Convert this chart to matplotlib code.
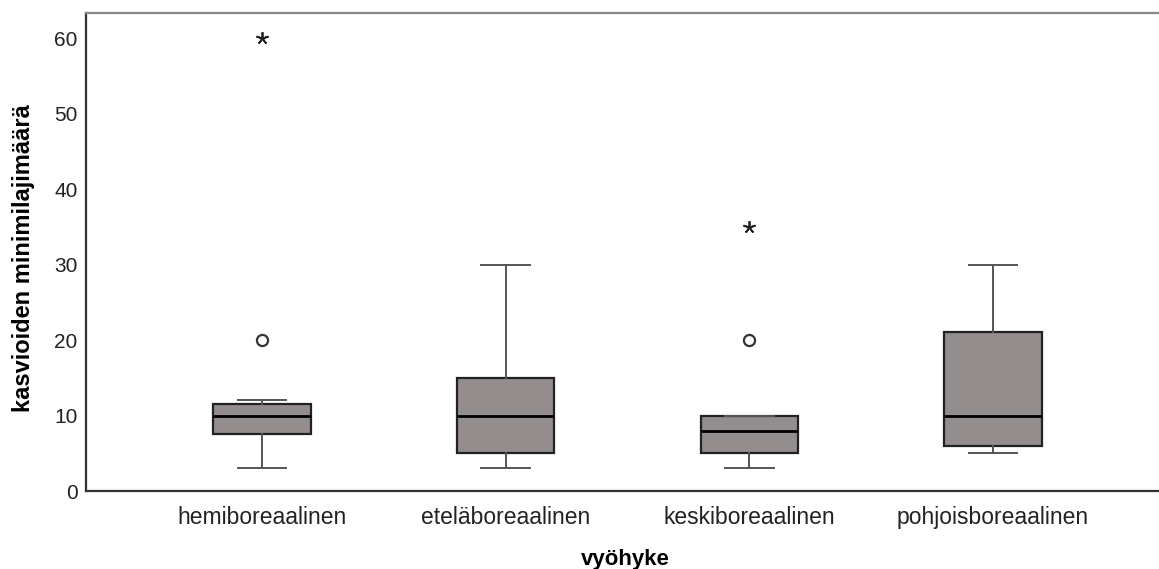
import matplotlib
matplotlib.use("Agg")
import matplotlib.pyplot as plt

plt.rcParams["font.family"] = ["Liberation Sans", "DejaVu Sans"]

zones = ["hemiboreaalinen", "eteläboreaalinen", "keskiboreaalinen", "pohjoisboreaalinen"]
whisker_low = [3, 3, 3, 5]
q1 = [7.5, 5, 5, 6]
medians = [10, 10, 8, 10]
q3 = [11.5, 15, 10, 21]
whisker_high = [12, 30, 10, 30]
outliers = [[20], [], [20], []]
extremes = [[60], [], [35], []]

stats = [
    {"whislo": lo, "q1": a, "med": m, "q3": b, "whishi": hi, "fliers": []}
    for lo, a, m, b, hi in zip(whisker_low, q1, medians, q3, whisker_high)
]

fig = plt.figure(figsize=(11.59, 5.69), dpi=100)
ax = fig.add_axes([0.0742, 0.137, 0.93, 0.840])

positions = list(range(len(zones)))
ax.bxp(
    stats, positions=positions, widths=0.4, capwidths=0.2, patch_artist=True,
    showfliers=False,
    boxprops=dict(facecolor="#938e8d", edgecolor="#222222", linewidth=1.6),
    medianprops=dict(color="#000000", linewidth=2.0),
    whiskerprops=dict(color="#555555", linewidth=1.4),
    capprops=dict(color="#555555", linewidth=1.4),
)

for pos, vals in zip(positions, outliers):
    if vals:
        ax.plot([pos] * len(vals), vals, linestyle="none", marker="o", markersize=8,
                markerfacecolor="white", markeredgecolor="#333333", markeredgewidth=1.6)
# extreme values drawn as SPSS-style asterisks
for pos, vals in zip(positions, extremes):
    if vals:
        ax.plot([pos] * len(vals), vals, linestyle="none", marker=(5, 2, 0), markersize=9,
                markeredgewidth=1.3, color="#222222")

ax.set_xlim(-0.722, 3.701)
ax.set_ylim(0, 63.3)
ax.set_yticks([0, 10, 20, 30, 40, 50, 60])
ax.set_xticks(positions, zones)
ax.tick_params(axis="x", length=0, pad=11, labelsize=16.5, labelcolor="#222222")
ax.tick_params(axis="y", length=0, pad=6, labelsize=15, labelcolor="#222222")

ax.set_xlabel("vyöhyke", fontsize=16, fontweight="bold", labelpad=14)
ax.set_ylabel("kasvioiden minimilajimäärä", fontsize=17, fontweight="bold")
ax.yaxis.set_label_coords(-0.047, 0.488)

for side in ("left", "bottom"):
    ax.spines[side].set_color("#333333")
    ax.spines[side].set_linewidth(1.6)
ax.spines["top"].set_color("#888888")
ax.spines["top"].set_linewidth(1.6)
ax.spines["right"].set_visible(False)

fig.savefig("out.png", dpi=100)
